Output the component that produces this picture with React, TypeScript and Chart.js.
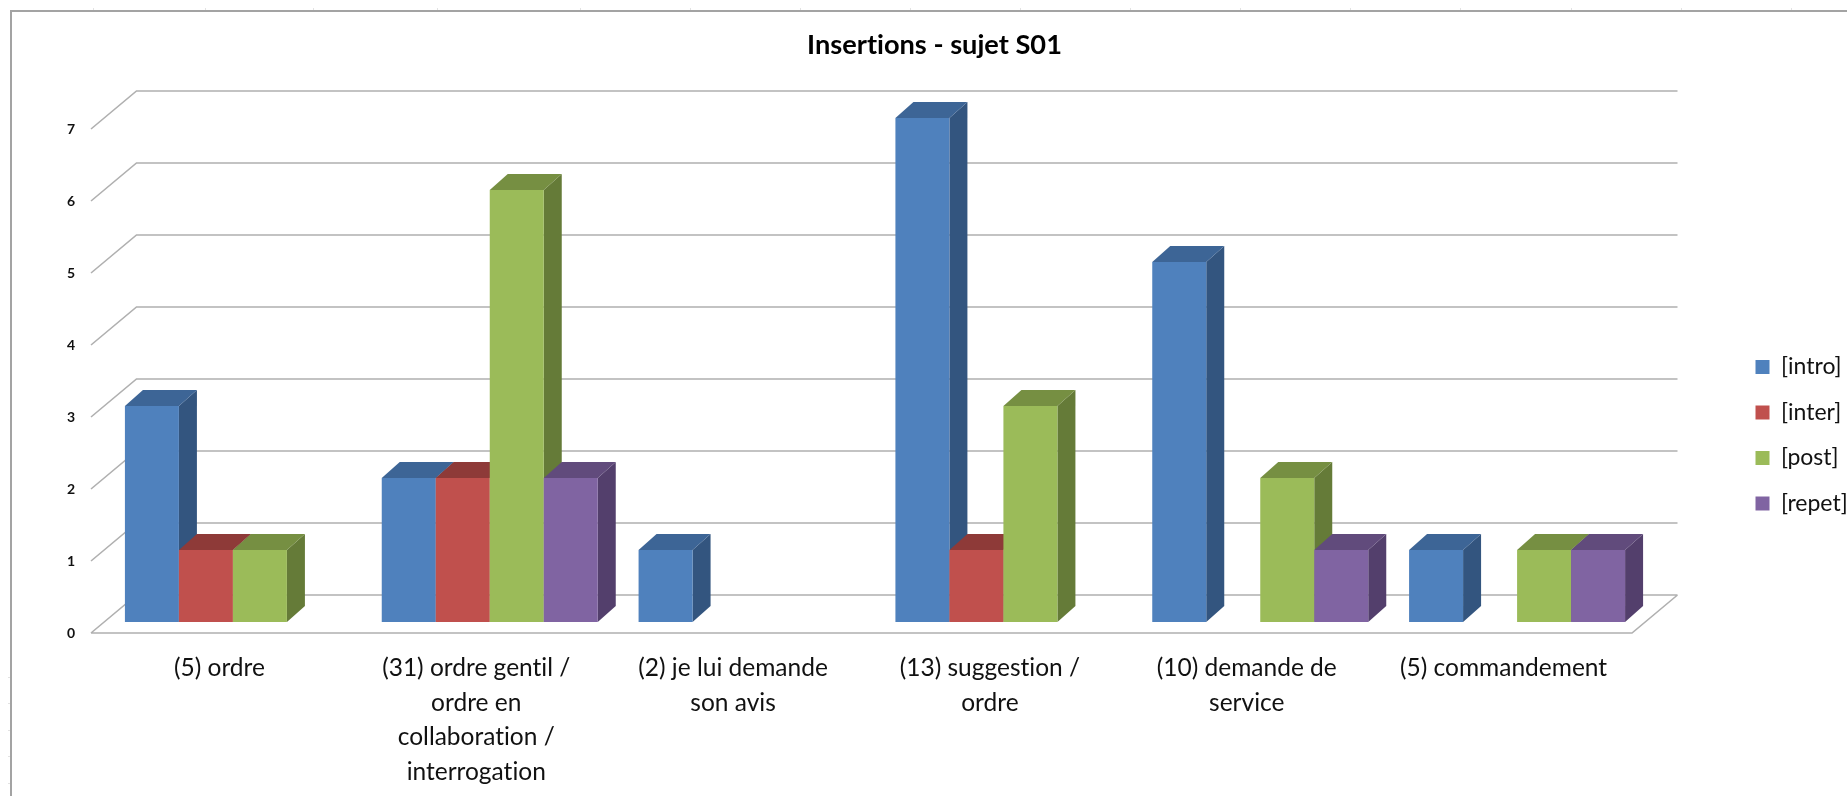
import React, { useEffect, useRef } from "react";
import { Chart, registerables } from "chart.js";

Chart.register(...registerables);

const categories: string[][] = [
  ["(5) ordre"],
  ["(31) ordre gentil /", "ordre en", "collaboration /", "interrogation"],
  ["(2) je lui demande", "son avis"],
  ["(13) suggestion /", "ordre"],
  ["(10) demande de", "service"],
  ["(5) commandement"],
];
const intro = [3, 2, 1, 7, 5, 1];
const inter = [1, 2, 0, 1, 0, 0];
const post = [1, 6, 0, 3, 2, 1];
const repet = [0, 2, 0, 0, 1, 1];
const seriesNames = ["[intro]", "[inter]", "[post]", "[repet]"];
const frontColors = ["#4F81BD", "#C0504D", "#9BBB59", "#8064A2"];
const sideColors = ["#33557F", "#7E3532", "#657B38", "#533F6C"];
const topColors = ["#3D6596", "#8E3A38", "#768F42", "#614B7C"];
const title = "Insertions - sujet S01";
const yTicks = [0, 1, 2, 3, 4, 5, 6, 7];

const cellTicksTop = [93, 205, 313, 437, 580, 690, 800, 910, 1020, 1130, 1240, 1350, 1460, 1571, 1681, 1791];
const cellTicksLeft = [677, 703, 730, 756, 783];

const FONT = "Lato, Carlito, Calibri, sans-serif";
const W = 1847;
const H = 796;
const AREA = { left: 91, right: 1632, top: 129, bottom: 633 };
const WALL = { dx: 45.5, dy: 38 };
const BAR_SHIFT = { dx: 13.5, dy: -11 };
const BAR_DEPTH = { dx: 18, dy: 16 };
const LEGEND_FONT = 23;
const LEGEND_PAD = 45.5 - LEGEND_FONT;

const frame3d = {
  id: "frame3d",
  afterLayout(chart: any) {
    const lg = chart.legend;
    if (lg) {
      lg.left = 1755.5 - LEGEND_PAD;
      lg.right = W + 40;
      lg.top = 333;
      lg.bottom = H;
    }
    if (chart.titleBlock) {
      chart.titleBlock.left = 11;
      chart.titleBlock.right = W + 11;
    }
  },
  beforeDraw(chart: any) {
    const c = chart.ctx;
    c.save();
    c.fillStyle = "#fff";
    c.fillRect(0, 0, W, H);
    c.strokeStyle = "#e2e2e2";
    c.lineWidth = 1;
    c.beginPath();
    cellTicksTop.forEach((x) => {
      c.moveTo(x + 0.5, 8);
      c.lineTo(x + 0.5, 10);
    });
    cellTicksLeft.forEach((y) => {
      c.moveTo(8, y + 0.5);
      c.lineTo(10, y + 0.5);
    });
    c.stroke();
    c.strokeStyle = "#a3a3a3";
    c.lineWidth = 2;
    c.beginPath();
    c.moveTo(W, 11);
    c.lineTo(11, 11);
    c.lineTo(11, H);
    c.stroke();
    c.restore();
    c.textRendering = "optimizeSpeed";
  },
  beforeDatasetsDraw(chart: any) {
    const c = chart.ctx;
    const { left, right } = chart.chartArea;
    const y = chart.scales.y;
    c.save();
    c.strokeStyle = "#b0b0b0";
    c.lineWidth = 1.6;
    c.beginPath();
    yTicks.forEach((t) => {
      const py = y.getPixelForValue(t);
      c.moveTo(left, py);
      c.lineTo(left + WALL.dx, py - WALL.dy);
      c.lineTo(right + WALL.dx, py - WALL.dy);
    });
    const p0 = y.getPixelForValue(0);
    c.moveTo(left, p0);
    c.lineTo(right, p0);
    c.lineTo(right + WALL.dx, p0 - WALL.dy);
    c.stroke();
    c.restore();

    // Painter's order: left to right, each bar with its side and top faces,
    // so that the next series' front face covers the previous side face.
    c.save();
    c.translate(BAR_SHIFT.dx, BAR_SHIFT.dy);
    chart.data.datasets.forEach((ds: any, i: number) => {
      const meta = chart.getDatasetMeta(i);
      meta.data.forEach((bar: any, k: number) => {
        if (!ds.data[k]) return;
        const { x, y: top, base, width } = bar.getProps(["x", "y", "base", "width"], true);
        const r = x + width / 2;
        const l = x - width / 2;
        const { dx, dy } = BAR_DEPTH;
        c.fillStyle = sideColors[i];
        c.beginPath();
        c.moveTo(r, top);
        c.lineTo(r + dx, top - dy);
        c.lineTo(r + dx, base - dy);
        c.lineTo(r, base);
        c.closePath();
        c.fill();
        c.fillStyle = topColors[i];
        c.beginPath();
        c.moveTo(l, top);
        c.lineTo(l + dx, top - dy);
        c.lineTo(r + dx, top - dy);
        c.lineTo(r, top);
        c.closePath();
        c.fill();
        bar.draw(c);
      });
    });
    c.restore();
    return false;
  },
};

export default function App() {
  const ref = useRef<HTMLCanvasElement | null>(null);
  useEffect(() => {
    if (!ref.current) return;
    const series = [intro, inter, post, repet];
    const chart = new Chart(ref.current, {
      type: "bar",
      plugins: [frame3d],
      data: {
        labels: categories as any,
        datasets: series.map((data, i) => ({
          label: seriesNames[i],
          data,
          backgroundColor: frontColors[i],
          borderWidth: 0,
          categoryPercentage: 216 / 256.83,
          barPercentage: 1,
        })),
      },
      options: {
        responsive: false,
        animation: false,
        layout: { padding: { left: 0, right: W - AREA.right, top: 0, bottom: 0 } },
        plugins: {
          tooltip: { enabled: false },
          title: {
            display: true,
            text: title,
            color: "#000",
            font: { family: FONT, size: 27.2, weight: "bold", lineHeight: 1.2 },
            padding: { top: 28.5, bottom: AREA.top - 28.5 - 32.64 },
          },
          legend: {
            display: true,
            position: "chartArea" as any,
            align: "start",
            labels: {
              color: "#111",
              boxWidth: 14,
              boxHeight: 14,
              padding: LEGEND_PAD,
              font: { family: FONT, size: LEGEND_FONT, lineHeight: 1.2 },
            },
          },
        },
        scales: {
          x: {
            type: "category",
            offset: true,
            grid: { display: false, drawTicks: false },
            border: { display: false },
            afterFit(s: any) {
              s.height = H - AREA.bottom;
            },
            ticks: {
              color: "#111",
              autoSkip: false,
              maxRotation: 0,
              minRotation: 0,
              padding: 18,
              font: { family: FONT, size: 24.5, lineHeight: 34.5 / 24.5 },
            },
          },
          y: {
            type: "linear",
            min: 0,
            max: 7,
            grid: { display: false, drawTicks: false },
            border: { display: false },
            afterFit(s: any) {
              s.width = AREA.left;
            },
            ticks: {
              color: "#111",
              stepSize: 1,
              padding: 16,
              font: { family: FONT, size: 14, weight: "bold" },
            },
          },
        },
      },
    } as any);
    return () => chart.destroy();
  }, []);
  return (
    <canvas
      ref={ref}
      width={W}
      height={H}
      style={{ position: "absolute", left: 0, top: 0, display: "block", width: W, height: H }}
    />
  );
}
